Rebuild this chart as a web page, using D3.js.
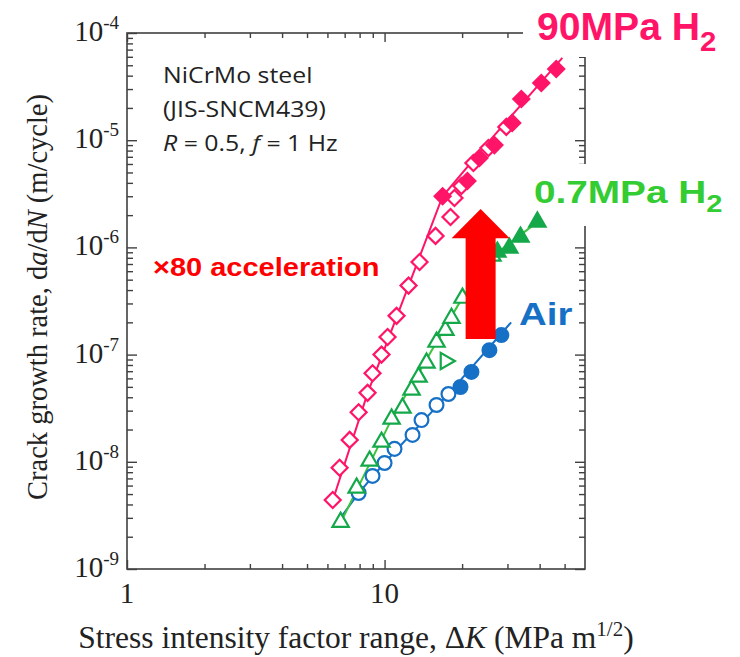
<!DOCTYPE html>
<html>
<head>
<meta charset="utf-8">
<script src="https://cdn.jsdelivr.net/npm/d3@7"></script>
<style>
  body { margin: 0; background: #fff; }
  svg { display: block; }
</style>
</head>
<body>
<svg id="chart"></svg>
<script>
// values: dK (MPa m^1/2) vs da/dN (m/cycle)
const pinkOpenK    = [6.29, 6.69, 7.32, 7.93, 8.59, 8.98, 9.73, 10.27, 11.13, 12.39, 13.67, 15.77, 18.03, 18.68, 19.88, 22.13, 25.3, 29.7];
const pinkOpenRate = [4.4e-9, 8.8e-9, 1.6e-8, 2.9e-8, 4.4e-8, 6.7e-8, 1.0e-7, 1.46e-7, 2.3e-7, 4.4e-7, 7.3e-7, 1.28e-6, 1.92e-6, 2.89e-6, 3.74e-6, 6.12e-6, 8.45e-6, 1.33e-5];
const pinkFilledK    = [16.8, 20.97, 23.35, 26.7, 31.3, 33.96, 40.6, 46.4];
const pinkFilledRate = [3.0e-6, 4.16e-6, 6.83e-6, 9.0e-6, 1.45e-5, 2.42e-5, 3.42e-5, 4.61e-5];
const pinkFitK    = [6.3, 8.6, 12.4, 16.8, 25, 49];
const pinkFitRate = [4.4e-9, 4.4e-8, 4.4e-7, 3.0e-6, 9.3e-6, 5.85e-5];

const greenOpenK    = [6.75, 7.79, 8.75, 9.73, 10.65, 11.74, 12.73, 13.55, 14.55, 15.91, 17.23, 18.19, 20.06, 26.22];
const greenOpenRate = [2.74e-9, 5.7e-9, 1.02e-8, 1.53e-8, 2.51e-8, 3.18e-8, 4.68e-8, 6.18e-8, 8.36e-8, 1.31e-7, 1.69e-7, 2.19e-7, 3.37e-7, 8.32e-7];
const greenSideK    = [17.23];
const greenSideRate = [8.71e-8];
const greenFilledK    = [27.4, 30.5, 33.7, 39.2];
const greenFilledRate = [9.06e-7, 9.86e-7, 1.25e-6, 1.73e-6];
const greenFitK    = [6.75, 10.65, 20.06, 27, 39.5];
const greenFitRate = [2.7e-9, 2.5e-8, 3.4e-7, 8.7e-7, 1.75e-6];

const blueOpenK    = [7.93, 8.98, 10.0, 10.93, 12.84, 13.91, 15.91, 17.7];
const blueOpenRate = [5.12e-9, 7.38e-9, 9.75e-9, 1.32e-8, 1.78e-8, 2.45e-8, 3.39e-8, 4.29e-8];
const blueFilledK    = [19.71, 21.74, 25.53, 28.4];
const blueFilledRate = [4.99e-8, 6.89e-8, 1.1e-7, 1.52e-7];
const blueFitK    = [6.81, 7.93, 10.0, 17.7, 31.0];
const blueFitRate = [3.1e-9, 5.1e-9, 9.8e-9, 4.3e-8, 2.0e-7];

// arrow annotation (x position, base, head base, tip)
const arrowK = 23.6;
const arrowRates = [1.4e-7, 1.22e-6, 2.28e-6];

const xMajor = [1, 10];
const xMinor = [2, 3, 4, 5, 6, 7, 8, 9, 20, 30, 40, 50];
const yExponents = [-9, -8, -7, -6, -5, -4];

const pink = '#ff1468', green = '#14a84a', greenLine = '#3cc43c', blue = '#1670c6';

const W = 740, H = 657;
const svg = d3.select('#chart').attr('width', W).attr('height', H)
  .style('font-family', '"Liberation Serif", "Times New Roman", serif');

const x = d3.scaleLog().domain([1, 60]).range([127, 585]);
const y = d3.scaleLog().domain([1e-9, 1e-4]).range([569, 33]);

const yMajor = yExponents.map(e => Math.pow(10, e));
const yMinor = [];
yExponents.slice(0, -1).forEach(e => {
  for (let k = 2; k <= 9; k++) yMinor.push(k * Math.pow(10, e));
});

// axes, ticks pointing inward
function axisGroup(axis, tx, ty) {
  const g = svg.append('g').attr('transform', `translate(${tx},${ty})`).call(axis);
  g.select('.domain').remove();
  g.selectAll('line').attr('stroke', '#404040').attr('stroke-width', 1.4);
  return g;
}
axisGroup(d3.axisBottom(x).tickValues(xMajor).tickSize(-9).tickFormat(''), 0, 569);
axisGroup(d3.axisBottom(x).tickValues(xMinor).tickSize(-5).tickFormat(''), 0, 569);
axisGroup(d3.axisTop(x).tickValues(xMajor).tickSize(-9).tickFormat(''), 0, 33);
axisGroup(d3.axisTop(x).tickValues(xMinor).tickSize(-5).tickFormat(''), 0, 33);
axisGroup(d3.axisLeft(y).tickValues(yMajor).tickSize(-10).tickFormat(''), 127, 0);
axisGroup(d3.axisLeft(y).tickValues(yMinor).tickSize(-6).tickFormat(''), 127, 0);
axisGroup(d3.axisRight(y).tickValues(yMajor).tickSize(-10).tickFormat(''), 585, 0);
axisGroup(d3.axisRight(y).tickValues(yMinor).tickSize(-6).tickFormat(''), 585, 0);

svg.append('rect')
  .attr('x', x(1)).attr('y', y(1e-4))
  .attr('width', x(60) - x(1)).attr('height', y(1e-9) - y(1e-4))
  .attr('fill', 'none').attr('stroke', '#404040').attr('stroke-width', 1.6);

// tick labels
yMajor.forEach((v, i) => {
  const t = svg.append('text')
    .attr('x', 119).attr('y', y(v) + 8)
    .attr('text-anchor', 'end').attr('font-size', 29).attr('fill', '#222');
  t.append('tspan').text('10');
  t.append('tspan').attr('dy', -12).attr('font-size', 19).text('-' + (-yExponents[i]));
});
xMajor.forEach(v => {
  svg.append('text')
    .attr('x', x(v)).attr('y', 603)
    .attr('text-anchor', 'middle').attr('font-size', 29).attr('fill', '#222')
    .text(d3.format('d')(v));
});

// axis titles
const xt = svg.append('text')
  .attr('x', 356).attr('y', 648)
  .attr('text-anchor', 'middle').attr('font-size', 31.5).attr('fill', '#222');
xt.append('tspan').text('Stress intensity factor range, \u0394');
xt.append('tspan').attr('font-style', 'italic').text('K');
xt.append('tspan').text(' (MPa m');
xt.append('tspan').attr('dy', -12).attr('font-size', 21).text('1/2');
xt.append('tspan').attr('dy', 12).text(')');

const yt = svg.append('text')
  .attr('transform', 'translate(47,297) rotate(-90)')
  .attr('text-anchor', 'middle').attr('font-size', 28.5).attr('fill', '#222');
yt.append('tspan').text('Crack growth rate, d');
yt.append('tspan').attr('font-style', 'italic').text('a');
yt.append('tspan').text('/d');
yt.append('tspan').attr('font-style', 'italic').text('N');
yt.append('tspan').text(' (m/cycle)');

// material info
const info = svg.append('g')
  .style('font-family', '"Open Sans", "Noto Sans", sans-serif')
  .attr('font-size', 22).attr('fill', '#222');
function infoLine(yy) {
  return info.append('text').attr('transform', `translate(163,${yy}) scale(1.13,1)`);
}
infoLine(83).text('NiCrMo steel');
infoLine(117).text('(JIS-SNCM439)');
const l3 = infoLine(151);
l3.append('tspan').attr('font-style', 'italic').text('R');
l3.append('tspan').text(' = 0.5, ');
l3.append('tspan').attr('font-style', 'italic').text('f');
l3.append('tspan').text(' = 1 Hz');

// series
const line = d3.line().x(d => x(d[0])).y(d => y(d[1]));
function pairs(ks, rs) { return ks.map((k, i) => [k, rs[i]]); }

function drawLine(ks, rs, color) {
  svg.append('path').datum(pairs(ks, rs))
    .attr('d', line).attr('fill', 'none')
    .attr('stroke', color).attr('stroke-width', 2);
}
function drawMarkers(ks, rs, type, size, color, filled, rotate) {
  const sym = d3.symbol().type(type).size(size);
  svg.append('g').selectAll('path').data(pairs(ks, rs)).join('path')
    .attr('transform', d => `translate(${x(d[0])},${y(d[1])}) rotate(${rotate || 0})`)
    .attr('d', sym)
    .attr('fill', filled ? color : '#fff')
    .attr('stroke', color).attr('stroke-width', 2.2);
}

drawLine(blueFitK, blueFitRate, blue);
drawLine(greenFitK, greenFitRate, greenLine);
drawLine(pinkFitK, pinkFitRate, pink);

drawMarkers(blueOpenK, blueOpenRate, d3.symbolCircle, 150, blue, false);
drawMarkers(blueFilledK, blueFilledRate, d3.symbolCircle, 150, blue, true);
drawMarkers(greenOpenK, greenOpenRate, d3.symbolTriangle, 115, green, false);
drawMarkers(greenSideK, greenSideRate, d3.symbolTriangle, 115, green, false, 90);
drawMarkers(greenFilledK, greenFilledRate, d3.symbolTriangle, 115, green, true);
drawMarkers(pinkOpenK, pinkOpenRate, d3.symbolSquare, 128, pink, false, 45);
drawMarkers(pinkFilledK, pinkFilledRate, d3.symbolSquare, 128, pink, true, 45);

// red arrow
const ax = x(arrowK);
const [aBase, aNeck, aTip] = arrowRates.map(r => y(r));
svg.append('path')
  .attr('d', `M${ax - 15},${aBase} L${ax + 15},${aBase} L${ax + 15},${aNeck} L${ax + 29},${aNeck}
              L${ax},${aTip} L${ax - 29},${aNeck} L${ax - 15},${aNeck} Z`)
  .attr('fill', '#ff0000');

// labels (white boxes hide the frame behind them)
const lab = svg.append('g')
  .style('font-family', '"Liberation Sans", Arial, sans-serif')
  .attr('font-weight', 'bold');
lab.append('rect').attr('x', 523).attr('y', 0).attr('width', 217).attr('height', 57).attr('fill', '#fff');
lab.append('rect').attr('x', 577).attr('y', 164).attr('width', 20).attr('height', 62).attr('fill', '#fff');

function label(txt, sub, xx, yy, size, sx, color) {
  const t = lab.append('text').attr('transform', `translate(${xx},${yy}) scale(${sx},1)`)
    .attr('font-size', size).attr('fill', color);
  t.append('tspan').text(txt);
  if (sub) t.append('tspan').attr('dy', size * 0.28).attr('font-size', size * 0.75).text(sub);
  return t;
}
label('90MPa H', '2', 537, 40, 38, 1.03, pink);
label('0.7MPa H', '2', 534, 203, 31, 1.25, '#33cc33');
label('Air', null, 519, 325, 32, 1.2, blue);
label('\u00d780 acceleration', null, 153, 276, 25, 1.16, '#ff0000');
</script>
</body>
</html>
